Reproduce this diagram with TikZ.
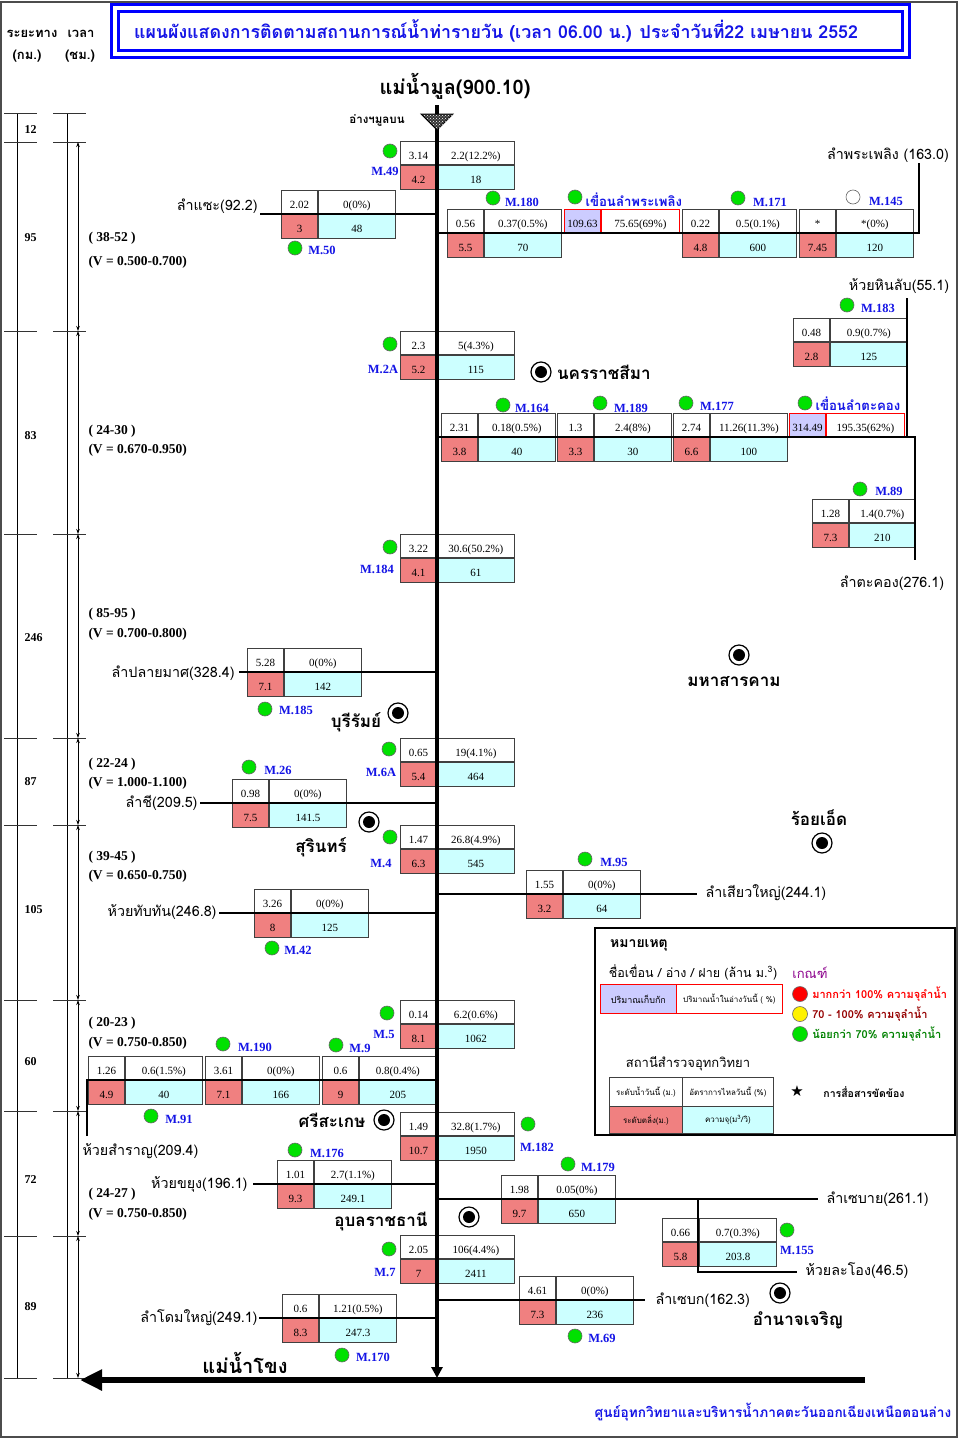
\documentclass[tikz,border=0pt]{standalone}
\usepackage{fontspec}
\setmainfont{Liberation Serif}
\newfontfamily\thai[Script=Thai]{Loma}
\newfontfamily\symb{DejaVu Sans}
\usetikzlibrary{positioning}
\usetikzlibrary{arrows.meta}
\usetikzlibrary{patterns}

\definecolor{bankred}{RGB}{240,128,128}
\definecolor{capcyan}{RGB}{204,255,255}
\definecolor{damlav}{RGB}{204,204,255}
\definecolor{stnblue}{RGB}{20,20,230}
\definecolor{okgreen}{RGB}{0,225,0}
\definecolor{darkred}{RGB}{150,0,0}
\definecolor{legreen}{RGB}{0,130,0}
\definecolor{crpurple}{RGB}{140,0,140}

% station table: [flow width] name, divider point, level, flow, bank, capacity
\newcommand{\stn}[7][77pt]{%
  \node[cell, minimum width=36pt, anchor=south east] (#2-lv) at (#3) {#4};
  \node[cell, minimum width=#1, anchor=south west] (#2-fl) at (#3) {#5};
  \node[cell, fill=bankred, minimum width=36pt, anchor=north east] (#2-bk) at (#3) {#6};
  \node[cell, fill=capcyan, minimum width=#1, anchor=north west] (#2-cp) at (#3) {#7};
}
% dam: name, divider point, storage, today
\newcommand{\dam}[4]{%
  \node[cell, draw=red, fill=damlav, minimum width=36pt, anchor=south east] (#1-st) at (#2) {#3};
  \node[cell, draw=red, minimum width=78pt, anchor=south west] (#1-td) at (#2) {#4};
}

\begin{document}
\begin{tikzpicture}[x=1pt, y=-1pt, line width=1pt,
    cell/.style = {draw=black!75, line width=0.8pt, inner sep=0pt, minimum height=23.5pt,
                   text height=15pt, text depth=2pt, font=\fontsize{11}{11}\selectfont},
    legcell/.style = {draw=black!75, line width=0.8pt, inner sep=0pt, anchor=north west,
                      font=\thai\fontsize{8}{8}\selectfont},
    gauge/.style = {circle, draw=black!60, line width=0.6pt, fill=okgreen, minimum size=14pt, inner sep=0pt},
    gname/.style = {text=stnblue, font=\bfseries\fontsize{12.5}{12.5}\selectfont, inner sep=0pt},
    damname/.style = {text=stnblue, font=\thai\bfseries\fontsize{13.2}{13.2}\selectfont, inner sep=0pt},
    city/.style = {circle, draw, line width=1.2pt, fill=white, minimum size=20pt, inner sep=0pt,
                   path picture={\fill[black] (path picture bounding box.center) circle (6pt);}},
    cityname/.style = {font=\thai\bfseries\fontsize{17}{17}\selectfont, inner sep=0pt},
    river/.style = {font=\thai\fontsize{14.3}{14.3}\selectfont, inner sep=0pt},
    trib/.style = {line width=2pt},
    scaletick/.style = {line width=1pt, black!80},
    timespan/.style = {line width=0.8pt, {Stealth[length=5pt,width=3.5pt]}-{Stealth[length=5pt,width=3.5pt]}},
    scalenum/.style = {font=\bfseries\fontsize{12}{12}\selectfont, inner sep=0pt, anchor=west},
    timelbl/.style = {font=\bfseries\fontsize{13.5}{13.5}\selectfont, inner sep=0pt, anchor=west},
    hdr/.style = {font=\thai\bfseries\fontsize{13}{13}\selectfont, inner sep=0pt},
    crit/.style = {font=\thai\bfseries\fontsize{11}{11}\selectfont, inner sep=0pt}
  ]

\useasboundingbox (0,0) rectangle (960,1440);
\fill[white] (0,0) rectangle (960,1440);
\draw[black!70, line width=1.5pt] (1,2) rectangle (957,1437);

% title
\draw[blue, line width=3pt, double=white, double distance=4pt] (114.5,7.5) rectangle (905.5,53.5);
\node[text=stnblue, font=\thai\bfseries\fontsize{17.8}{17.8}\selectfont] (title) at (496,31)
  {แผนผังแสดงการติดตามสถานการณ์น้ำท่ารายวัน (เวลา 06.00 น.) ประจำวันที่22 เมษายน 2552};

\node[hdr] (dist) at (32,34) {ระยะทาง};
\node[hdr] (time) at (81,34) {เวลา};
\node[hdr] at (27,56) {(กม.)};
\node[hdr] at (80,56) {(ชม.)};

% distance and time scales
\draw[line width=1pt] (17,113) -- (17,1378);
\draw[line width=1pt] (67,113) -- (67,1378);
\foreach \y in {113,142,331,534,738,825,1000,1111,1236,1378} {
  \draw[scaletick] (4,\y) -- (37,\y);
  \draw[scaletick] (53,\y) -- (86,\y);
}
\foreach \a/\b in {142/331,331/534,534/738,738/825,825/1000,1000/1111,1111/1236,1236/1378}
  \draw[timespan] (78,\a) -- (78,\b);
\foreach \y/\d in {130/12,238/95,436/83,638/246,782/87,910/105,1062/60,1180/72,1307/89}
  \node[scalenum] at (24,\y) {\d};
\foreach \ya/\yb/\t/\v in {238/262/38-52/0.500-0.700, 431/450/24-30/0.670-0.950,
    614/634/85-95/0.700-0.800, 764/783/22-24/1.000-1.100, 857/876/39-45/0.650-0.750,
    1023/1043/20-23/0.750-0.850, 1194/1214/24-27/0.750-0.850} {
  \node[timelbl] at (88,\ya) {( \t\ )};
  \node[timelbl] at (88,\yb) {(V = \v)};
}

% main river
\coordinate (mun) at (437,105);
\coordinate (mouth) at (437,1378);
\node[font=\thai\bfseries\fontsize{20}{20}\selectfont] (munlbl) at (455,86) {แม่น้ำมูล(900.10)};
\node[font=\thai\bfseries\fontsize{11.5}{11.5}\selectfont] (upper) at (377,120) {อ่างฯมูลบน};

% stations
\stn{m49}{437,165}{3.14}{2.2(12.2\%)}{4.2}{18}
\stn{m50}{318,214}{2.02}{0(0\%)}{3}{48}
\stn{m180}{484,233}{0.56}{0.37(0.5\%)}{5.5}{70}
\dam{lpp}{601,233}{109.63}{75.65(69\%)}
\stn{m171}{719,233}{0.22}{0.5(0.1\%)}{4.8}{600}
\stn{m145}{836,233}{*}{*(0\%)}{7.45}{120}
\stn{m183}{830,342}{0.48}{0.9(0.7\%)}{2.8}{125}
\stn{m2a}{437,355}{2.3}{5(4.3\%)}{5.2}{115}
\stn{m164}{478,437}{2.31}{0.18(0.5\%)}{3.8}{40}
\stn{m189}{594,437}{1.3}{2.4(8\%)}{3.3}{30}
\stn{m177}{710,437}{2.74}{11.26(11.3\%)}{6.6}{100}
\dam{ltk}{826,437}{314.49}{195.35(62\%)}
\stn[66pt]{m89}{849,523}{1.28}{1.4(0.7\%)}{7.3}{210}
\stn{m184}{437,558}{3.22}{30.6(50.2\%)}{4.1}{61}
\stn{m185}{284,672}{5.28}{0(0\%)}{7.1}{142}
\stn{m6a}{437,762}{0.65}{19(4.1\%)}{5.4}{464}
\stn{m26}{269,803}{0.98}{0(0\%)}{7.5}{141.5}
\stn{m4}{437,849}{1.47}{26.8(4.9\%)}{6.3}{545}
\stn{m95}{563,894}{1.55}{0(0\%)}{3.2}{64}
\stn{m42}{291,913}{3.26}{0(0\%)}{8}{125}
\stn{m5}{437,1024}{0.14}{6.2(0.6\%)}{8.1}{1062}
\stn{m91}{125,1080}{1.26}{0.6(1.5\%)}{4.9}{40}
\stn{m190}{242,1080}{3.61}{0(0\%)}{7.1}{166}
\stn{m9}{359,1080}{0.6}{0.8(0.4\%)}{9}{205}
\stn{m182}{437,1136}{1.49}{32.8(1.7\%)}{10.7}{1950}
\stn{m176}{314,1184}{1.01}{2.7(1.1\%)}{9.3}{249.1}
\stn{m179}{538,1199}{1.98}{0.05(0\%)}{9.7}{650}
\stn{m155}{699,1242}{0.66}{0.7(0.3\%)}{5.8}{203.8}
\stn{m7}{437,1259}{2.05}{106(4.4\%)}{7}{2411}
\stn{m69}{556,1300}{4.61}{0(0\%)}{7.3}{236}
\stn{m170}{319,1318}{0.6}{1.21(0.5\%)}{8.3}{247.3}

% tributaries
\coordinate (sae) at (260,214);
\draw[trib] (sae) -- (sae -| mun);
\node[river, anchor=east] at (258,206) {ลำแซะ(92.2)};

\coordinate (pp-top) at (919,163);
\coordinate (pp-bend) at (919,233);
\draw[trib] (pp-top) -- (pp-bend) -- (pp-bend -| mun);
\node[river] at (888,155) {ลำพระเพลิง (163.0)};

\coordinate (hl-top) at (907,298);
\coordinate (tk-bend) at (915,437);
\coordinate (tk-end) at (915,560);
\draw[trib] (mun |- tk-bend) -- (tk-bend) -- (tk-end);
\draw[trib] (hl-top) -- (hl-top |- tk-bend);
\node[river] at (899,286) {ห้วยหินลับ(55.1)};
\node[river] at (892,583) {ลำตะคอง(276.1)};

\coordinate (plm) at (239,672);
\draw[trib] (plm) -- (plm -| mun);
\node[river, anchor=east] at (235,673) {ลำปลายมาศ(328.4)};

\coordinate (chi) at (200,803);
\draw[trib] (chi) -- (chi -| mun);
\node[river, anchor=east] at (198,803) {ลำชี(209.5)};

\coordinate (syai) at (697,894);
\draw[trib] (mun |- syai) -- (syai);
\node[river, anchor=west] at (705,893) {ลำเสียวใหญ่(244.1)};

\coordinate (ttn) at (219,913);
\draw[trib] (ttn) -- (ttn -| mun);
\node[river, anchor=east] at (217,912) {ห้วยทับทัน(246.8)};

\coordinate (sr-end) at (87,1136);
\coordinate (sr-bend) at (87,1080);
\draw[trib] (sr-end) -- (sr-bend) -- (sr-bend -| mun);
\node[river, anchor=west] at (82,1151) {ห้วยสำราญ(209.4)};

\coordinate (kyung) at (253,1184);
\draw[trib] (kyung) -- (kyung -| mun);
\node[river, anchor=east] at (248,1184) {ห้วยขยุง(196.1)};

\coordinate (sebai) at (818,1199);
\draw[trib] (mun |- sebai) -- (sebai);
\node[river, anchor=west] at (826,1199) {ลำเซบาย(261.1)};

\coordinate (lo-bend) at (698,1272);
\coordinate (lo-end) at (797,1272);
\draw[trib] (lo-bend |- sebai) -- (lo-bend) -- (lo-end);
\node[river, anchor=west] at (805,1271) {ห้วยละโอง(46.5)};

\coordinate (sebok) at (645,1300);
\draw[trib] (mun |- sebok) -- (sebok);
\node[river, anchor=west] at (655,1300) {ลำเซบก(162.3)};

\coordinate (dom) at (259,1318);
\draw[trib] (dom) -- (dom -| mun);
\node[river, anchor=east] at (258,1318) {ลำโดมใหญ่(249.1)};

% main stem and Mekong
\draw[line width=4pt, -{Triangle[length=11pt,width=11pt]}] (mun) -- (mouth);
\draw[fill=black!80] (421,114) -- (453,114) -- (437,130) -- cycle;
\fill[pattern=crosshatch dots, pattern color=white] (421,114) -- (453,114) -- (437,130) -- cycle;
\coordinate (mk-e) at (865,1380);
\coordinate (mk-w) at (80,1380);
\draw[line width=6pt, -{Triangle[length=22pt,width=20pt]}] (mk-e) -- (mk-w);
\node[font=\thai\bfseries\fontsize{20}{20}\selectfont] (mekong) at (245,1363) {แม่น้ำโขง};

% gauges
\foreach \n/\gx/\gy/\lx/\ly in {49/390/151/385/171, 50/295/248/322/250, 180/493/198/522/202,
    171/738/198/770/202, 2A/390/344/383/369, 164/503/405/532/408, 189/600/403/631/408,
    177/686/403/717/406, 183/847/305/878/308, 89/860/489/889/491, 184/390/547/377/569,
    185/265/709/296/710, 6A/389/749/381/772, 26/249/767/278/770, 4/390/837/381/863,
    95/585/859/614/862, 42/272/948/298/950, 5/387/1013/384/1034, 91/151/1116/179/1119,
    190/223/1044/255/1047, 9/336/1045/360/1048, 182/528/1124/537/1147, 176/295/1150/327/1153,
    179/568/1164/598/1167, 155/787/1230/797/1250, 7/389/1249/385/1272, 69/575/1336/602/1338,
    170/342/1355/373/1357} {
  \node[gauge] (g\n) at (\gx,\gy) {};
  \node[gname] at (\lx,\ly) {M.\n};
}
\node[gauge, fill=white] (g145) at (853,197) {};
\node[gname] at (886,201) {M.145};
\node[gauge] (glpp) at (575,197) {};
\node[damname, anchor=west] at (585,200) {เขื่อนลำพระเพลิง};
\node[gauge] (gltk) at (805,403) {};
\node[damname, anchor=west] at (815,404) {เขื่อนลำตะคอง};

% provinces
\node[city] (korat) at (541,372) {};
\node[cityname, right=5pt of korat] {นครราชสีมา};
\node[city] (mkm) at (739,655) {};
\node[cityname] at (734,682) {มหาสารคาม};
\node[city] (brm) at (398,713) {};
\node[cityname] at (356,722) {บุรีรัมย์};
\node[city] (roi) at (822,843) {};
\node[cityname] at (819,818) {ร้อยเอ็ด};
\node[city] (srn) at (369,822) {};
\node[cityname] at (321,847) {สุรินทร์};
\node[city] (ssk) at (384,1120) {};
\node[cityname] at (332,1120) {ศรีสะเกษ};
\node[city] (ubn) at (469,1217) {};
\node[cityname] at (381,1221) {อุบลราชธานี};
\node[city] (amn) at (780,1293) {};
\node[cityname] at (798,1320) {อำนาจเจริญ};

% legend
\draw[line width=1.5pt] (595,928) rectangle (955,1135);
\node[font=\thai\bfseries\fontsize{14}{14}\selectfont] (note) at (639,945) {หมายเหตุ};
\node[font=\thai\fontsize{12.5}{12.5}\selectfont] at (693,972) {ชื่อเขื่อน / อ่าง / ฝาย (ล้าน ม.\textsuperscript{3})};
\node[legcell, draw=red, fill=damlav, minimum width=76pt, minimum height=29pt,
      font=\thai\fontsize{9}{9}\selectfont] (lg-st) at (600,984) {ปริมาณเก็บกัก};
\node[legcell, draw=red, minimum width=106pt, minimum height=29pt] (lg-td) at (676,984) {ปริมาณน้ำในอ่างวันนี้ ( \%)};
\node[font=\thai\fontsize{13}{13}\selectfont, text=crpurple] at (810,973) {เกณฑ์};
\node[gauge, fill=red, minimum size=15pt] (lg-r) at (800,994) {};
\node[crit, text=red, right=4pt of lg-r] {มากกว่า 100\% ความจุลำน้ำ};
\node[gauge, fill=yellow, minimum size=15pt] (lg-y) at (800,1014) {};
\node[crit, text=darkred, right=4pt of lg-y] {70 - 100\% ความจุลำน้ำ};
\node[gauge, minimum size=15pt] (lg-g) at (800,1034) {};
\node[crit, text=legreen, right=4pt of lg-g] {น้อยกว่า 70\% ความจุลำน้ำ};
\node[font=\thai\fontsize{13}{13}\selectfont] at (688,1064) {สถานีสำรวจอุทกวิทยา};
\node[legcell, minimum width=73pt, minimum height=29pt] (lg-lv) at (609,1077) {ระดับน้ำวันนี้ (ม.)};
\node[legcell, minimum width=91pt, minimum height=29pt] (lg-fl) at (682,1077) {อัตราการไหลวันนี้ (\%)};
\node[legcell, fill=bankred, minimum width=73pt, minimum height=27pt] (lg-bk) at (609,1106) {ระดับตลิ่ง(ม.)};
\node[legcell, fill=capcyan, minimum width=91pt, minimum height=27pt] (lg-cp) at (682,1106) {ความจุ(ม\textsuperscript{3}/วิ)};
\node[font=\symb\fontsize{15}{15}\selectfont] (star) at (797,1091) {★};
\node[font=\thai\bfseries\fontsize{10.5}{10.5}\selectfont] at (864,1092) {การสื่อสารขัดข้อง};

\node[text=stnblue, font=\thai\bfseries\fontsize{13.6}{13.6}\selectfont, anchor=east] (footer) at (955,1412)
  {ศูนย์อุทกวิทยาและบริหารน้ำภาคตะวันออกเฉียงเหนือตอนล่าง};

\end{tikzpicture}
\end{document}
